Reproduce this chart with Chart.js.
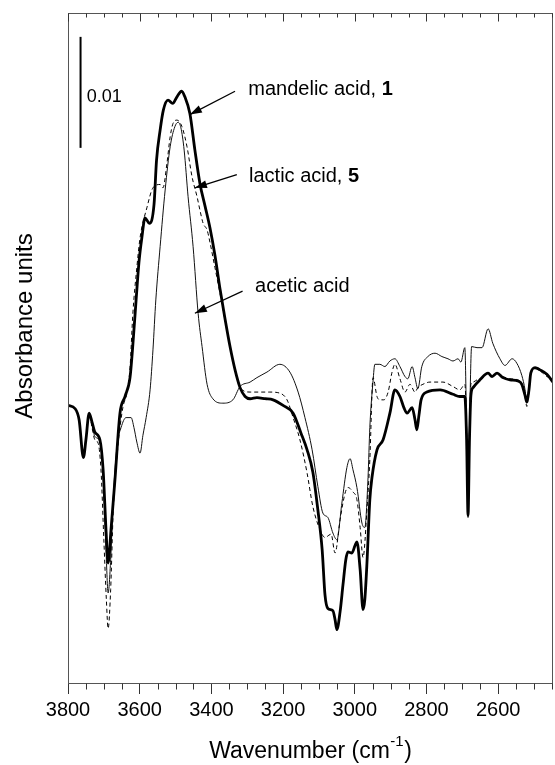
<!DOCTYPE html>
<html><head><meta charset="utf-8">
<script src="https://cdn.jsdelivr.net/npm/chart.js@4.4.1/dist/chart.umd.min.js"></script>
<style>html,body{margin:0;padding:0;background:#fff}</style>
</head><body>
<canvas id="c" width="555" height="765"></canvas>
<script>
// [wavenumber (cm-1), absorbance]
const mandelic = [[3800,.0251],[3780,.0248],[3769,.0238],[3757,.0204],[3750,.0220],[3741,.0244],[3733,.0236],[3725,.0227],[3711,.0220],[3702,.0193],[3694,.0139],[3688,.0109],[3680,.0139],[3669,.0184],[3655,.0244],[3641,.0259],[3627,.0276],[3619,.0306],[3610,.0346],[3602,.0380],[3594,.0402],[3585,.0420],[3573,.0415],[3560,.0432],[3553,.0472],[3543,.0499],[3534,.0517],[3521,.0526],[3508,.0523],[3496,.0529],[3483,.0534],[3474,.0529],[3460,.0514],[3446,.0481],[3432,.0451],[3418,.0431],[3404,.0411],[3390,.0386],[3376,.0356],[3362,.0329],[3348,.0304],[3334,.0283],[3320,.0267],[3306,.0259],[3292,.0257],[3273,.0258],[3250,.0257],[3228,.0256],[3200,.0251],[3172,.0244],[3150,.0226],[3133,.0211],[3117,.0191],[3103,.0157],[3091,.0121],[3083,.0080],[3075,.0068],[3061,.0066],[3055,.0058],[3050,.0049],[3041,.0065],[3033,.0089],[3025,.0112],[3019,.0119],[3008,.0118],[2999,.0125],[2994,.0128],[2985,.0103],[2977,.0067],[2972,.0076],[2966,.0109],[2958,.0166],[2952,.0186],[2938,.0211],[2921,.0220],[2902,.0244],[2888,.0265],[2874,.0259],[2863,.0249],[2854,.0244],[2840,.0249],[2832,.0238],[2827,.0229],[2821,.0242],[2815,.0256],[2799,.0263],[2762,.0265],[2726,.0261],[2707,.0259],[2693,.0259],[2688,.0220],[2684,.0152],[2680,.0220],[2676,.0260],[2670,.0267],[2651,.0274],[2628,.0280],[2617,.0277],[2603,.0280],[2587,.0276],[2567,.0274],[2545,.0273],[2534,.0270],[2525,.0260],[2520,.0254],[2514,.0265],[2509,.0280],[2497,.0285],[2483,.0283],[2464,.0279],[2447,.0272]];

const lactic = [[3800,.0251],[3780,.0248],[3769,.0238],[3757,.0204],[3750,.0220],[3741,.0244],[3733,.0231],[3725,.0220],[3716,.0217],[3708,.0193],[3700,.0130],[3693,.0076],[3688,.0050],[3681,.0085],[3674,.0154],[3661,.0213],[3647,.0249],[3635,.0263],[3627,.0285],[3619,.0334],[3608,.0375],[3599,.0402],[3580,.0429],[3563,.0447],[3543,.0450],[3535,.0447],[3524,.0469],[3515,.0493],[3507,.0505],[3496,.0508],[3482,.0502],[3468,.0484],[3454,.0457],[3440,.0439],[3432,.0427],[3423,.0415],[3412,.0409],[3404,.0398],[3390,.0375],[3376,.0352],[3362,.0328],[3348,.0304],[3334,.0283],[3320,.0267],[3292,.0263],[3264,.0263],[3237,.0263],[3209,.0262],[3189,.0256],[3172,.0240],[3153,.0220],[3133,.0190],[3117,.0160],[3097,.0139],[3083,.0132],[3066,.0135],[3055,.0118],[3041,.0148],[3027,.0172],[3019,.0177],[3005,.0173],[2994,.0166],[2985,.0141],[2977,.0114],[2966,.0157],[2958,.0202],[2949,.0276],[2938,.0259],[2930,.0256],[2919,.0256],[2907,.0263],[2896,.0281],[2888,.0288],[2874,.0275],[2860,.0263],[2846,.0270],[2832,.0263],[2824,.0267],[2810,.0270],[2790,.0272],[2754,.0272],[2726,.0268],[2707,.0265],[2693,.0270],[2688,.0229],[2684,.0152],[2680,.0229],[2676,.0270],[2670,.0272],[2659,.0274],[2642,.0276],[2628,.0280],[2617,.0277],[2603,.0280],[2587,.0277],[2567,.0275],[2545,.0274],[2534,.0270],[2525,.0259],[2520,.0250],[2514,.0264],[2509,.0279],[2497,.0284],[2483,.0282],[2464,.0277],[2447,.0274]];

const acetic = [[3800,.0251],[3780,.0248],[3769,.0238],[3757,.0204],[3750,.0220],[3741,.0244],[3733,.0234],[3725,.0223],[3711,.0218],[3702,.0188],[3694,.0121],[3688,.0082],[3681,.0112],[3674,.0166],[3663,.0215],[3652,.0231],[3638,.0240],[3624,.0240],[3616,.0231],[3608,.0218],[3599,.0208],[3591,.0224],[3582,.0240],[3571,.0265],[3563,.0301],[3555,.0346],[3543,.0394],[3529,.0445],[3515,.0484],[3502,.0502],[3493,.0506],[3485,.0501],[3476,.0481],[3465,.0439],[3451,.0394],[3437,.0334],[3426,.0304],[3412,.0270],[3396,.0257],[3368,.0253],[3340,.0256],[3320,.0268],[3292,.0272],[3273,.0276],[3245,.0281],[3209,.0288],[3181,.0281],[3158,.0263],[3139,.0240],[3119,.0211],[3103,.0178],[3089,.0154],[3075,.0150],[3061,.0136],[3050,.0130],[3036,.0163],[3022,.0195],[3013,.0203],[3005,.0193],[2994,.0177],[2980,.0145],[2972,.0141],[2963,.0186],[2958,.0231],[2949,.0273],[2944,.0288],[2930,.0288],[2916,.0286],[2902,.0291],[2888,.0293],[2874,.0286],[2860,.0277],[2852,.0275],[2840,.0286],[2832,.0276],[2824,.0266],[2813,.0286],[2796,.0295],[2776,.0298],[2757,.0295],[2740,.0293],[2726,.0291],[2712,.0293],[2704,.0290],[2693,.0303],[2688,.0229],[2684,.0150],[2680,.0229],[2674,.0304],[2659,.0303],[2645,.0303],[2628,.0320],[2615,.0307],[2595,.0293],[2581,.0287],[2561,.0293],[2548,.0289],[2534,.0278],[2525,.0265],[2520,.0253],[2514,.0268],[2506,.0283],[2492,.0285],[2475,.0281],[2455,.0275],[2447,.0271]];

const xMajorTicks = [3800, 3600, 3400, 3200, 3000, 2800, 2600];
const xMinorStep = 50;
const xRange = [2447, 3800];
const yRange = [0, 0.06045];

const xTitle = ['Wavenumber (cm', '-1', ')'];
const yTitle = 'Absorbance units';

// scale bar (0.01 absorbance) and labelled arrows, in data coordinates
const scaleBar = { wn: 3765, from: 0.0483, to: 0.0583, label: '0.01', labelAt: [3748, 0.0529] };
const callouts = [
  { text: 'mandelic acid, ', bold: '1', at: [3297, 0.0536], from: [3334, 0.0534], to: [3460, 0.0513] },
  { text: 'lactic acid, ',   bold: '5', at: [3295, 0.0457], from: [3329, 0.0459], to: [3446, 0.0447] },
  { text: 'acetic acid',     bold: '',  at: [3278, 0.0358], from: [3313, 0.0354], to: [3446, 0.0334] }
];

const FONT = '"Liberation Sans", Arial, Helvetica, sans-serif';
const toXY = arr => arr.map(p => ({ x: p[0], y: p[1] }));

function arrow(ctx, x1, y1, x2, y2) {
  ctx.beginPath(); ctx.moveTo(x1, y1); ctx.lineTo(x2, y2);
  ctx.lineWidth = 1.3; ctx.stroke();
  const a = Math.atan2(y2 - y1, x2 - x1), L = 12, W = 4;
  const bx = x2 - L * Math.cos(a), by = y2 - L * Math.sin(a);
  ctx.beginPath(); ctx.moveTo(x2, y2);
  ctx.lineTo(bx + W * Math.sin(a), by - W * Math.cos(a));
  ctx.lineTo(bx - W * Math.sin(a), by + W * Math.cos(a));
  ctx.closePath(); ctx.fill();
}

const decor = {
  id: 'decor',
  afterDraw(chart) {
    const { ctx, chartArea: a, scales: { x, y } } = chart;
    ctx.save();
    // frame
    ctx.strokeStyle = '#555'; ctx.lineWidth = 1;
    const L = Math.round(a.left) + 0.5, R = Math.round(a.right) - 0.5;
    const T = Math.round(a.top) + 0.5, B = Math.round(a.bottom) - 0.5;
    ctx.strokeRect(L, T, R - L, B - T);
    // minor ticks bottom (outward) and all ticks top (inward)
    ctx.strokeStyle = '#333';
    ctx.beginPath();
    for (let v = Math.ceil(xRange[0] / xMinorStep) * xMinorStep; v <= xRange[1]; v += xMinorStep) {
      const px = Math.round(x.getPixelForValue(v)) + 0.5;
      const major = xMajorTicks.includes(v);
      if (!major) { ctx.moveTo(px, B); ctx.lineTo(px, B + 6); }
      ctx.moveTo(px, T); ctx.lineTo(px, T + (major ? 8 : 4));
    }
    ctx.stroke();
    // axis titles
    ctx.fillStyle = '#000';
    ctx.textBaseline = 'alphabetic';
    ctx.font = '23px ' + FONT;
    const w1 = ctx.measureText(xTitle[0]).width, w3 = ctx.measureText(xTitle[2]).width;
    ctx.font = '15px ' + FONT;
    const w2 = ctx.measureText(xTitle[1]).width;
    const cx = (a.left + a.right) / 2;
    let sx = cx - (w1 + w2 + w3 + 1) / 2;
    const base = 758;
    ctx.font = '23px ' + FONT; ctx.textAlign = 'left';
    ctx.fillText(xTitle[0], sx, base);
    ctx.font = '15px ' + FONT;
    ctx.fillText(xTitle[1], sx + w1 + 0.5, base - 12);
    ctx.font = '23px ' + FONT;
    ctx.fillText(xTitle[2], sx + w1 + w2 + 1, base);
    ctx.save();
    ctx.translate(32, 326); ctx.rotate(-Math.PI / 2);
    ctx.font = '24px ' + FONT; ctx.textAlign = 'center';
    ctx.fillText(yTitle, 0, 0);
    ctx.restore();
    // scale bar
    ctx.strokeStyle = '#000'; ctx.lineWidth = 2;
    const sbx = x.getPixelForValue(scaleBar.wn);
    ctx.beginPath();
    ctx.moveTo(sbx, y.getPixelForValue(scaleBar.from));
    ctx.lineTo(sbx, y.getPixelForValue(scaleBar.to));
    ctx.stroke();
    ctx.font = '18px ' + FONT; ctx.textBaseline = 'middle'; ctx.textAlign = 'left';
    ctx.fillText(scaleBar.label, x.getPixelForValue(scaleBar.labelAt[0]), y.getPixelForValue(scaleBar.labelAt[1]));
    // callouts
    ctx.fillStyle = '#000'; ctx.strokeStyle = '#000';
    callouts.forEach(c => {
      const tx = x.getPixelForValue(c.at[0]), ty = y.getPixelForValue(c.at[1]);
      ctx.font = '20px ' + FONT;
      ctx.fillText(c.text, tx, ty);
      if (c.bold) {
        const w = ctx.measureText(c.text).width;
        ctx.font = 'bold 20px ' + FONT;
        ctx.fillText(c.bold, tx + w, ty);
      }
      arrow(ctx, x.getPixelForValue(c.from[0]), y.getPixelForValue(c.from[1]),
                 x.getPixelForValue(c.to[0]), y.getPixelForValue(c.to[1]));
    });
    ctx.restore();
  }
};

new Chart(document.getElementById('c'), {
  type: 'scatter',
  data: {
    datasets: [
      { label: 'mandelic acid, 1', data: toXY(mandelic), borderColor: '#000', borderWidth: 2.8 },
      { label: 'lactic acid, 5', data: toXY(lactic), borderColor: '#000', borderWidth: 1, borderDash: [4, 3] },
      { label: 'acetic acid', data: toXY(acetic), borderColor: '#111', borderWidth: 1 }
    ].map(d => Object.assign(d, { showLine: true, pointRadius: 0, pointHoverRadius: 0, fill: false, cubicInterpolationMode: 'monotone', borderJoinStyle: 'round' }))
  },
  options: {
    responsive: false,
    animation: false,
    events: [],
    layout: { padding: { left: 68, top: 13, right: 2, bottom: 0 } },
    plugins: { legend: { display: false }, tooltip: { enabled: false } },
    scales: {
      x: {
        type: 'linear', reverse: true, min: xRange[0], max: xRange[1],
        afterBuildTicks: s => { s.ticks = xMajorTicks.map(v => ({ value: v })); },
        afterFit: s => { s.height = 81; },
        ticks: { font: { family: FONT, size: 20 }, color: '#000', padding: 4, maxRotation: 0, autoSkip: false, callback: v => String(v) },
        grid: { display: true, drawOnChartArea: false, drawTicks: true, tickLength: 10, color: '#333', lineWidth: 1 },
        border: { display: false }
      },
      y: { display: false, min: yRange[0], max: yRange[1] }
    }
  },
  plugins: [decor]
});
</script>
</body></html>
